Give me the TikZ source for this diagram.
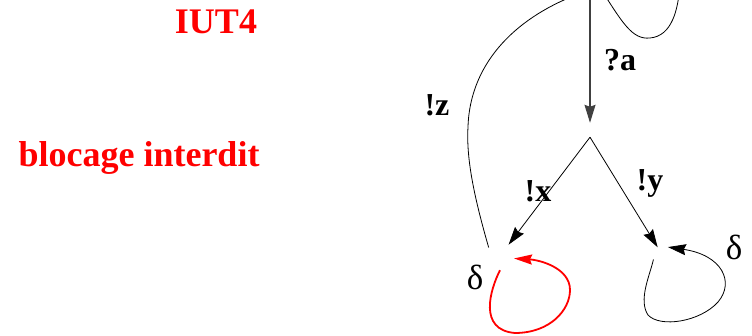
\documentclass[tikz,border=0pt]{standalone}
\usepackage{fontspec}
\setmainfont{Liberation Serif}
\usetikzlibrary{arrows.meta}
\definecolor{pured}{RGB}{255,0,0}
\tikzset{
  st/.style={circle,inner sep=0pt,minimum size=#1},
  tr/.style={line width=0.8pt,-{Stealth[length=18pt,width=11pt,inset=2pt]}},
  lbl/.style={font=\fontsize{32}{34}\selectfont\bfseries},
  dl/.style={font=\fontsize{35}{37}\selectfont},
  title/.style={font=\fontsize{36}{40}\selectfont\bfseries,text=pured},
}
\begin{document}
\begin{tikzpicture}[x=1pt,y=-1pt]
\useasboundingbox (0,0) rectangle (752,336);
\clip (0,0) rectangle (752,336);
% states
\node[st=20pt] (top) at (590,-12) {};
\node[st=14pt] (mid) at (590,130) {};
\node[st=28pt] (L) at (500,256) {};
\node[st=20pt] (R) at (663,256) {};
% texts
\node[title] (t1) at (216,22) {IUT4};
\node[title] (t2) at (139,158) {blocage interdit};
% transitions
\draw[tr,draw=black!75,line width=1.1pt] (top) -- (mid.north);
\node[lbl] (la) at (620,60) {?a};
\draw[tr] (mid.south) -- (L);
\draw[tr] (mid.south) -- (R);
\node[lbl] (lx) at (538,191) {!x};
\node[lbl] (ly) at (650,183) {!y};
\draw[line width=0.8pt] (L.143) .. controls (475,200) and (466,160) .. (468,127)
   .. controls (470,60) and (520,15) .. (top.210);
\node[lbl] (lz) at (437,105) {!z};
% top loop
\draw[line width=0.8pt] (top.east) .. controls (622,22) and (632,40) .. (650,38)
   .. controls (672,36) and (678,10) .. (680,-15);
% red loop
\draw[pured,line width=1.8pt,-{Stealth[length=18pt,width=10pt,inset=2pt]}]
  (L.270) .. controls (490,290) and (478,330) .. (515,333)
  .. controls (550,333) and (570,310) .. (570,290)
  .. controls (570,268) and (540,260) .. (L.-10);
\node[dl] (d1) at (475,277) {δ};
% right loop
\draw[tr] (R.200) .. controls (650,275) and (638,300) .. (648,315)
  .. controls (660,328) and (700,322) .. (718,302)
  .. controls (735,282) and (722,255) .. (R.61);
\node[dl] (d2) at (734,247) {δ};
\end{tikzpicture}
\end{document}
